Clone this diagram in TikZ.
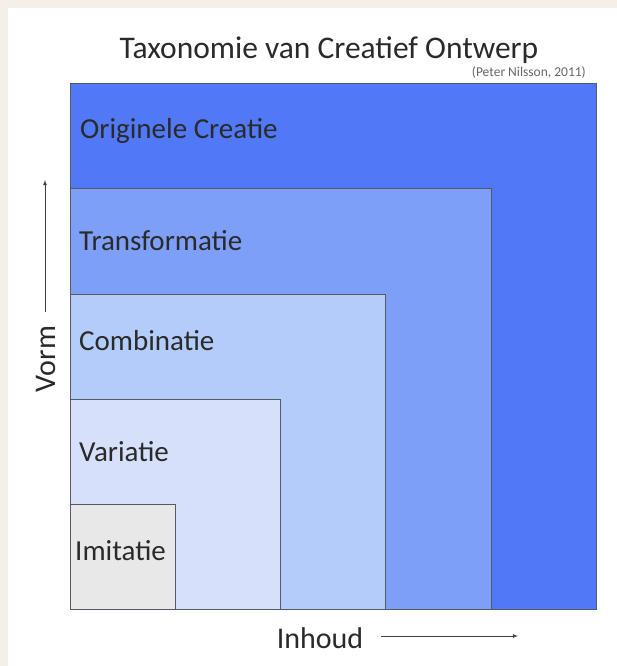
\documentclass[tikz,border=0pt]{standalone}
\usepackage{fontspec}
\setmainfont{Carlito}
\definecolor{bgbeige}{HTML}{F4F0E8}
\definecolor{cA}{HTML}{5078F7}
\definecolor{cB}{HTML}{7E9FF8}
\definecolor{cC}{HTML}{B3CCF9}
\definecolor{cD}{HTML}{D6E0FB}
\definecolor{cE}{HTML}{E8E8E8}
\definecolor{edgegray}{HTML}{555A66}
\definecolor{txt}{HTML}{2A2A2A}
\begin{document}
\begin{tikzpicture}[x=1pt,y=-1pt,
  sq/.style={draw=edgegray,line width=1pt},
  lab/.style={anchor=west,inner sep=0pt,text=txt,font=\fontsize{29}{33}\selectfont},
  axis/.style={inner sep=0pt,text=txt,font=\fontsize{30}{34}\selectfont},
  arr/.style={draw=black!75,line width=0.8pt,-latex}]
\fill[bgbeige] (0,0) rectangle (617,666);
\fill[white] (8,8) rectangle (617,666);
\useasboundingbox (0,0) rectangle (617,666);
\filldraw[sq,fill=cA] (70,609) rectangle (596,84);
\filldraw[sq,fill=cB] (70,609) rectangle (491,188);
\filldraw[sq,fill=cC] (70,609) rectangle (385,294);
\filldraw[sq,fill=cD] (70,609) rectangle (280,399);
\filldraw[sq,fill=cE] (70,609) rectangle (175,504);
\node[inner sep=0pt,text=txt,font=\fontsize{31.5}{36}\selectfont] (title) at (329,50) {Taxonomie van Creatief Ontwerp};
\node[inner sep=0pt,text=black!60,font=\fontsize{13.5}{15}\selectfont,anchor=east] (cite) at (586,72) {(Peter Nilsson, 2011)};
\node[lab] (l1) at (80,131) {Originele Creatie};
\node[lab] (l2) at (79,241) {Transformatie};
\node[lab] (l3) at (79,341) {Combinatie};
\node[lab] (l4) at (79,452) {Variatie};
\node[lab] (l5) at (75,551) {Imitatie};
\node[axis,rotate=90] (vorm) at (46,359) {Vorm};
\coordinate (vtop) at (45,180);
\draw[arr] (45,312) -- (vtop);
\node[axis] (inhoud) at (320,638) {Inhoud};
\coordinate (hend) at (518,636);
\draw[arr] (381,636) -- (hend);
\end{tikzpicture}
\end{document}
